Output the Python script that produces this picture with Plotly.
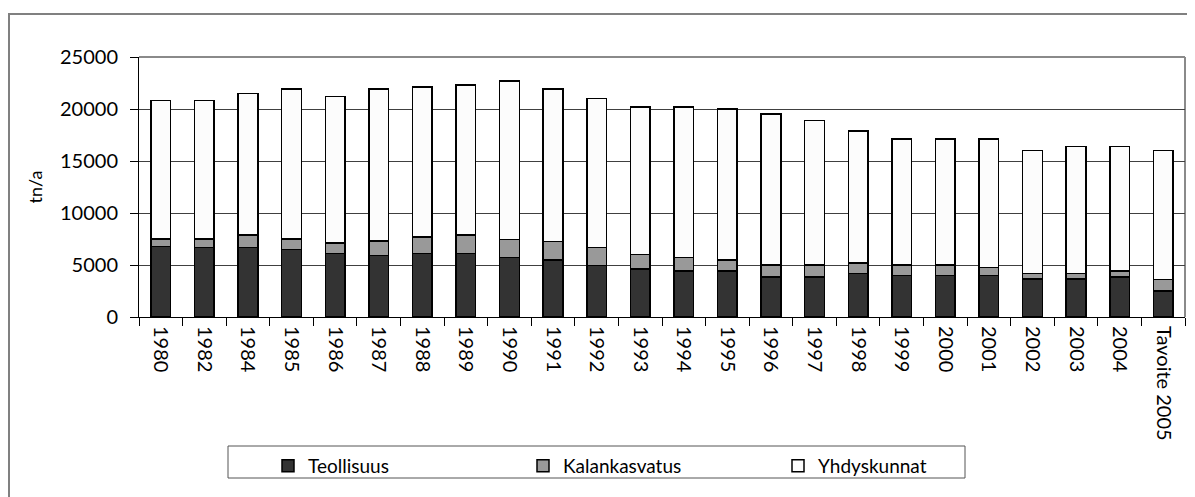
import plotly.graph_objects as go

categories = ["1980", "1982", "1984", "1985", "1986", "1987", "1988", "1989", "1990",
              "1991", "1992", "1993", "1994", "1995", "1996", "1997", "1998", "1999",
              "2000", "2001", "2002", "2003", "2004", "Tavoite 2005"]

teollisuus = [6800, 6700, 6700, 6500, 6100, 5900, 6100, 6100, 5700, 5500, 4950, 4600,
              4400, 4400, 3850, 3850, 4200, 4000, 4000, 4000, 3650, 3650, 3850, 2500]
kalankasvatus = [700, 800, 1200, 1000, 1000, 1400, 1600, 1800, 1750, 1750, 1750, 1400,
                 1300, 1100, 1150, 1150, 1000, 1000, 1000, 750, 550, 550, 550, 1100]
yhdyskunnat = [13300, 13300, 13600, 14400, 14100, 14600, 14400, 14400, 15250, 14650, 14300, 14200,
               14500, 14500, 14500, 13900, 12700, 12100, 12100, 12350, 11800, 12200, 12000, 12400]

y_ticks = [0, 5000, 10000, 15000, 20000, 25000]

FONT = "Lato, 'Open Sans', sans-serif"

fig = go.Figure()
series = [
    ("Teollisuus", teollisuus, "#333333"),
    ("Kalankasvatus", kalankasvatus, "#999999"),
    ("Yhdyskunnat", yhdyskunnat, "#fcfcfc"),
]
for name, vals, col in series:
    fig.add_trace(go.Bar(
        x=categories, y=vals, name=name,
        marker=dict(color=col, line=dict(color="#000000", width=1.5)),
    ))

# page has an 8px body margin; work in page pixel coordinates
OFF = 8
W, H = 1195 - OFF, 497 - OFF
plot_left, plot_right, plot_top, plot_bottom = 139, 1185, 57, 317  # page coords
L = plot_left - OFF
T = plot_top - OFF
R = W - (plot_right - OFF)
B = H - (plot_bottom - OFF)
pw = plot_right - plot_left
ph = plot_bottom - plot_top

def px(x):
    return (x - plot_left) / pw

def py(y):
    return (plot_bottom - y) / ph

fig.update_layout(
    barmode="stack",
    bargap=0.55,
    width=W, height=H,
    margin=dict(l=L, r=R, t=T, b=B, pad=0),
    paper_bgcolor="white",
    plot_bgcolor="white",
    font=dict(family=FONT, color="#000000", size=20),
    showlegend=True,
    legend=dict(
        orientation="h",
        x=px(268), xanchor="left",
        y=py(447), yanchor="top",
        bgcolor="rgba(0,0,0,0)",
        borderwidth=0,
        font=dict(size=19, family=FONT, color="#000000"),
        entrywidthmode="pixels",
        entrywidth=210,
        traceorder="normal",
    ),
    xaxis=dict(
        type="category",
        tickangle=90,
        showline=True, linecolor="#000000", linewidth=1,
        ticks="outside", ticklen=8, tickcolor="#000000", tickwidth=1,
        tickson="boundaries",
        showgrid=False,
        tickfont=dict(size=20, family=FONT, color="#000000"),
        ticklabelstandoff=4,
    ),
    yaxis=dict(
        range=[0, 25000],
        tickvals=y_ticks,
        ticktext=[str(v) for v in y_ticks],
        showline=True, linecolor="#000000", linewidth=1,
        ticks="outside", ticklen=8, tickcolor="#000000", tickwidth=1,
        showgrid=True, gridcolor="#404040", gridwidth=1,
        zeroline=False,
        tickfont=dict(size=20, family=FONT, color="#000000"),
        ticklabelstandoff=8,
        title=dict(text="tn/a", font=dict(size=18, family=FONT, color="#000000"), standoff=12),
    ),
    shapes=[
        # outer chart border (extends past the window on right and bottom)
        dict(type="rect", xref="paper", yref="paper",
             x0=px(9), x1=px(1260), y0=py(560), y1=py(14),
             line=dict(color="#808080", width=2), fillcolor="rgba(0,0,0,0)", layer="below"),
        # plot area border top and right
        dict(type="line", xref="paper", yref="paper", x0=0, x1=1, y0=1, y1=1,
             line=dict(color="#8a8a8a", width=2), layer="below"),
        dict(type="line", xref="paper", yref="paper", x0=1, x1=1, y0=0, y1=1,
             line=dict(color="#8a8a8a", width=2), layer="below"),
        # legend box
        dict(type="rect", xref="paper", yref="paper",
             x0=px(228), x1=px(965), y0=py(478), y1=py(446),
             line=dict(color="#555555", width=1), fillcolor="rgba(0,0,0,0)", layer="below"),
    ],
)

fig.write_html("out.html")
